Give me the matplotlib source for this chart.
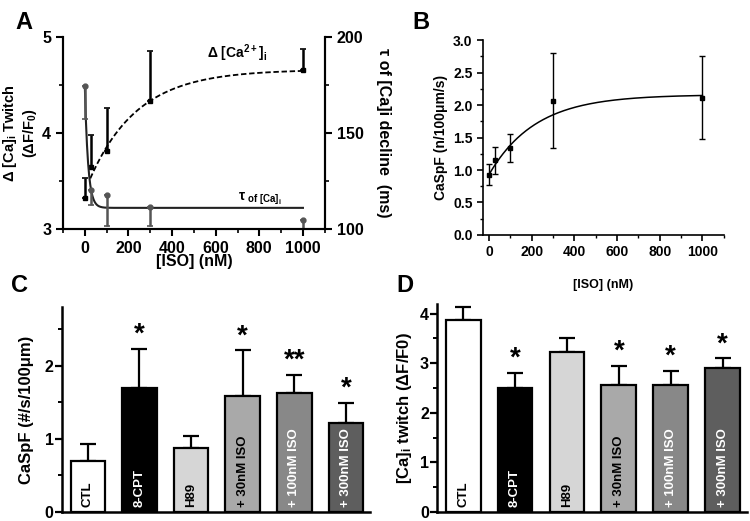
import numpy as np
import matplotlib
matplotlib.use('Agg')
import matplotlib.pyplot as plt

plt.rcParams['font.family'] = ['Liberation Sans', 'DejaVu Sans']
plt.rcParams['font.weight'] = 'bold'
plt.rcParams['axes.labelweight'] = 'bold'
plt.rcParams['mathtext.fontset'] = 'custom'
plt.rcParams['mathtext.rm'] = 'Liberation Sans:bold'
plt.rcParams['mathtext.it'] = 'Liberation Sans:bold'
plt.rcParams['mathtext.bf'] = 'Liberation Sans:bold'
plt.rcParams['mathtext.default'] = 'regular'
plt.rcParams['axes.linewidth'] = 1.5

# ---- Panel A data ----
iso = [0, 30, 100, 300, 1000]
ca_twitch = [3.32, 3.65, 3.81, 4.33, 4.66]
ca_twitch_err = [0.21, 0.33, 0.45, 0.52, 0.22]
tau_decline = [174.5, 120.5, 117.5, 111.5, 104.5]   # ms
tau_decline_err = [17, 8, 16, 10, 4.5]
# exponential fit parameters
ca_fit = dict(plateau=4.66, amp=1.27, tau=220.0, start=25)
tau_fit = dict(plateau=111.0, amp=63.5, tau=15.0)

# ---- Panel B data ----
caspf_iso = [0.93, 1.15, 1.34, 2.07, 2.11]
caspf_iso_err = [0.16, 0.21, 0.22, 0.73, 0.64]
caspf_fit = dict(plateau=2.16, amp=1.23, tau=218.0)

# ---- Panels C & D data ----
groups = ['CTL', '8-CPT', 'H89', '+ 30nM ISO', '+ 100nM ISO', '+ 300nM ISO']
bar_colors = ['white', 'black', '#d6d6d6', '#a9a9a9', '#888888', '#5e5e5e']
label_colors = ['black', 'white', 'black', 'black', 'white', 'white']
caspf = [0.70, 1.70, 0.87, 1.59, 1.63, 1.21]
caspf_err = [0.23, 0.53, 0.17, 0.62, 0.24, 0.28]
caspf_stars = ['', '*', '', '*', '**', '*']
twitch = [3.86, 2.49, 3.22, 2.56, 2.55, 2.90]
twitch_err = [0.27, 0.31, 0.28, 0.39, 0.30, 0.20]
twitch_stars = ['', '*', '', '*', '*', '*']

fig = plt.figure(figsize=(7.5, 5.21), dpi=100)


def bold_ticks(ax):
    for lab in ax.get_xticklabels() + ax.get_yticklabels():
        lab.set_fontweight('bold')


# ===== Panel A =====
axA = fig.add_axes([0.084, 0.5605, 0.349, 0.3685])
axA2 = axA.twinx()
x = np.linspace(ca_fit['start'], 1000, 300)
axA.plot(x, ca_fit['plateau'] - ca_fit['amp'] * np.exp(-x / ca_fit['tau']),
         color='black', ls=(0, (3, 1.5)), lw=1.3)
axA.errorbar(iso, ca_twitch, yerr=[np.zeros(5), ca_twitch_err], fmt='s', color='black',
             ms=3.5, capsize=2.5, elinewidth=1.8, capthick=1.2)
x2 = np.linspace(0, 1000, 600)
axA2.plot(x2, tau_fit['plateau'] + tau_fit['amp'] * np.exp(-x2 / tau_fit['tau']),
          color='#222222', lw=1.5)
axA2.errorbar(iso, tau_decline, yerr=[tau_decline_err, np.zeros(5)], fmt='o', color='#555555',
              ms=3.5, capsize=2.5, elinewidth=1.8, capthick=1.2)
axA.set_xlim(-100, 1100)
axA.set_ylim(3, 5)
axA2.set_ylim(100, 200)
axA.set_xticks([0, 200, 400, 600, 800, 1000])
axA.set_xticks(np.arange(-100, 1101, 100), minor=True)
axA.set_yticks([3, 4, 5])
axA.set_yticks([3.5, 4.5], minor=True)
axA2.set_yticks([100, 150, 200])
axA2.set_yticks([125, 175], minor=True)
for a in (axA, axA2):
    a.spines['top'].set_visible(False)
    a.tick_params(which='major', length=5, width=1.5, labelsize=11.5)
    a.tick_params(which='minor', length=3, width=1.2)
    bold_ticks(a)
axA.set_xlabel('[ISO] (nM)', fontsize=11.5, fontweight='bold', labelpad=-1)
axA.set_ylabel('$\\Delta$ [Ca]$_i$ Twitch\n($\\Delta$F/F$_0$)', fontsize=10.5, labelpad=2)
axA2.set_ylabel('τ of [Ca]i decline  (ms)', fontsize=11.5, fontweight='bold',
                rotation=270, labelpad=20)
axA.text(560, 4.78, '$\\Delta$ [Ca$^{2+}$]$_i$', fontsize=10)
axA.text(700, 3.3, '$\\tau_{\\ of\\ [Ca]_i}$', fontsize=10)
fig.text(0.02, 0.945, 'A', fontsize=17, fontweight='bold')

# ===== Panel B =====
axB = fig.add_axes([0.644, 0.549, 0.321, 0.374])
xb = np.linspace(0, 1000, 300)
axB.plot(xb, caspf_fit['plateau'] - caspf_fit['amp'] * np.exp(-xb / caspf_fit['tau']),
         color='black', lw=1.1)
axB.errorbar(iso, caspf_iso, yerr=caspf_iso_err, fmt='s', color='black', ms=3,
             capsize=2.5, elinewidth=1.0, capthick=1.0)
axB.set_xlim(-28, 1100)
axB.set_ylim(0, 3.0)
axB.set_xticks([0, 200, 400, 600, 800, 1000])
axB.set_xticks(np.arange(100, 1101, 100), minor=True)
axB.set_yticks(np.arange(0, 3.01, 0.5))
axB.set_yticks(np.arange(0.25, 3.0, 0.5), minor=True)
axB.yaxis.set_major_formatter(matplotlib.ticker.FormatStrFormatter('%.1f'))
axB.spines['top'].set_visible(False)
axB.spines['right'].set_visible(False)
axB.tick_params(which='major', length=4, width=1.2, labelsize=10)
axB.tick_params(which='minor', length=2.5, width=1.0)
bold_ticks(axB)
for s in axB.spines.values():
    s.set_linewidth(1.2)
axB.set_xlabel('[ISO] (nM)', fontsize=9, fontweight='bold', labelpad=14)
axB.set_ylabel('CaSpF (n/100μm/s)', fontsize=10, fontweight='bold')
fig.text(0.55, 0.945, 'B', fontsize=17, fontweight='bold')


def bar_panel(ax, vals, errs, stars, ylim, yticks, minor):
    pos = np.arange(len(groups))
    ax.bar(pos, vals, width=0.67, color=bar_colors, edgecolor='black', linewidth=1.6, zorder=2)
    ax.errorbar(pos, vals, yerr=[np.zeros(len(vals)), errs], fmt='none', ecolor='black',
                elinewidth=1.6, capsize=6, capthick=1.6, zorder=1)
    top = ylim[1]
    for p, v, e, s, lab, lc in zip(pos, vals, errs, stars, groups, label_colors):
        ax.text(p, top * 0.025, lab, rotation=90, ha='center', va='bottom', color=lc,
                fontsize=9.5, fontweight='bold')
        if s:
            ax.text(p, v + e + top * 0.005, s, ha='center', va='bottom', fontsize=20,
                    fontweight='bold')
    ax.set_xlim(-0.5, 5.47)
    ax.set_ylim(*ylim)
    ax.set_xticks([])
    ax.set_yticks(yticks)
    ax.set_yticks(minor, minor=True)
    ax.spines['top'].set_visible(False)
    ax.spines['right'].set_visible(False)
    ax.spines['left'].set_linewidth(1.8)
    ax.spines['bottom'].set_linewidth(1.8)
    ax.tick_params(which='major', length=5, width=1.6, labelsize=11.5, pad=1)
    ax.tick_params(which='minor', length=3, width=1.4)
    bold_ticks(ax)


# ===== Panel C =====
axC = fig.add_axes([0.0827, 0.0173, 0.411, 0.3935])
bar_panel(axC, caspf, caspf_err, caspf_stars, (0, 2.8), [0, 1, 2], [0.5, 1.5, 2.5])
axC.set_ylabel('CaSpF (#/s/100μm)', fontsize=12, fontweight='bold', labelpad=8)
fig.text(0.015, 0.44, 'C', fontsize=17, fontweight='bold')

# ===== Panel D =====
axD = fig.add_axes([0.583, 0.0173, 0.413, 0.4])
bar_panel(axD, twitch, twitch_err, twitch_stars, (0, 4.2), [0, 1, 2, 3, 4],
          [0.5, 1.5, 2.5, 3.5])
axD.set_ylabel('[Ca]$_i$ twitch ($\\Delta$F/F0)', fontsize=12, labelpad=4)
fig.text(0.528, 0.44, 'D', fontsize=17, fontweight='bold')

fig.savefig('out.png', dpi=100)
